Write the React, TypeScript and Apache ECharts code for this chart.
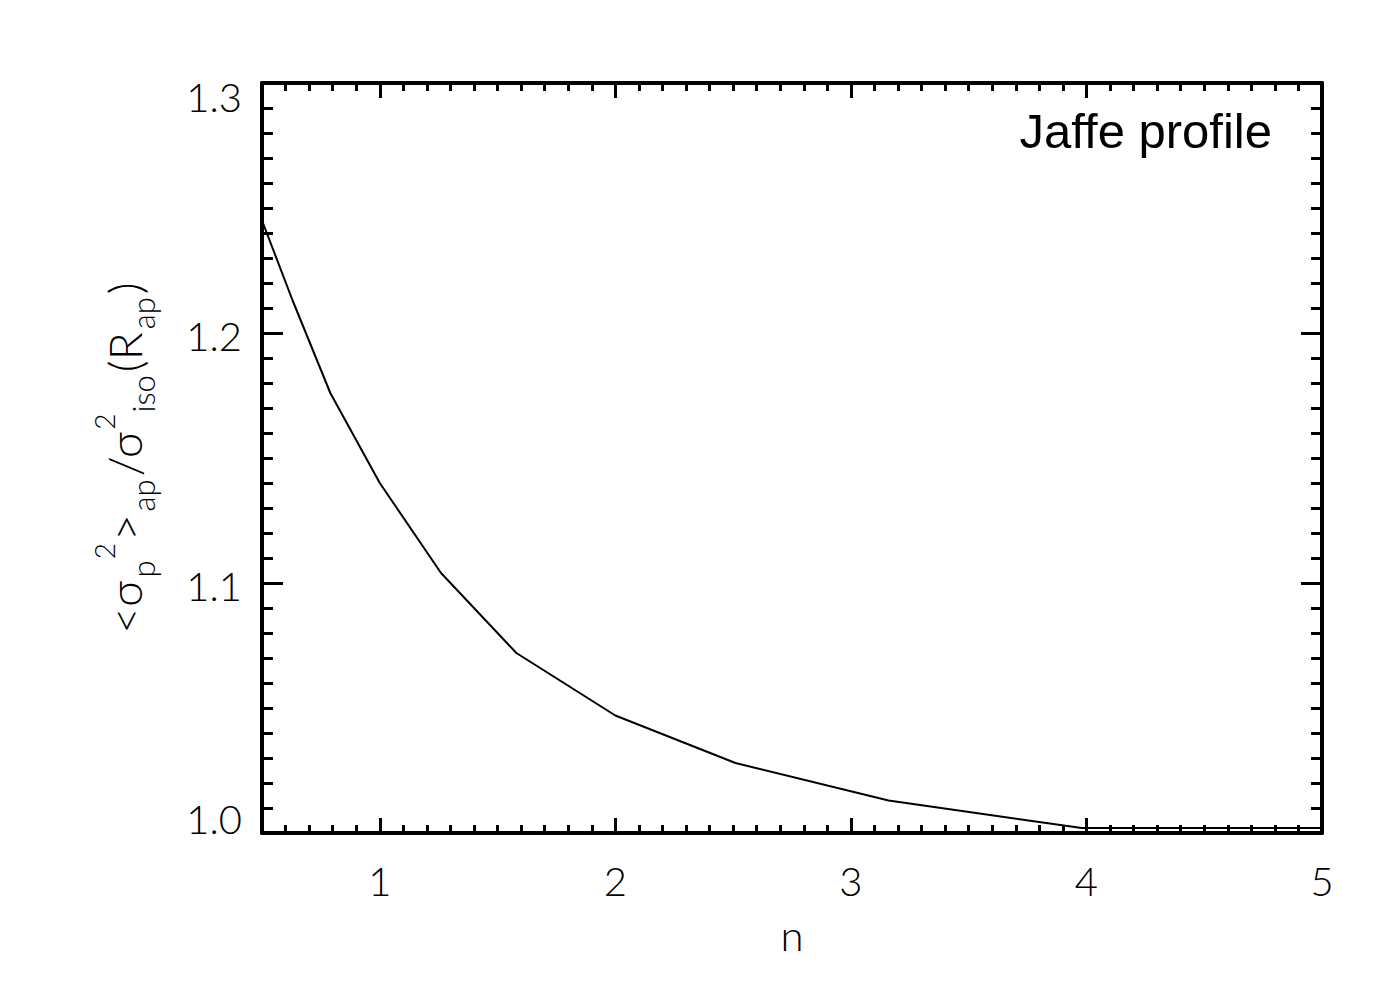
import React, { useEffect, useRef } from "react";
import * as echarts from "echarts";

// Data
const nValues = [0.5, 0.63, 0.79, 1.0, 1.26, 1.58, 2.0, 2.51, 3.16, 3.98, 5.0];
const ratioValues = [1.245, 1.213, 1.176, 1.14, 1.104, 1.072, 1.047, 1.028, 1.013, 1.002, 1.002];
const xMajorTicks = [1, 2, 3, 4, 5];
const profileLabel = "Jaffe profile";

const FONT = "Lato";
const AX = "#000";

export default function App() {
  const ref = useRef<HTMLDivElement>(null);
  useEffect(() => {
    document.body.style.margin = "0";
    const chart = echarts.init(ref.current!, null, { renderer: "svg" });
    const seriesData = nValues.map((n, i) => [n, ratioValues[i]]);

    const baseX = {
      type: "value",
      min: 0.5,
      max: 5,
      splitLine: { show: false },
    };
    const baseY = {
      type: "value",
      min: 1.0,
      max: 1.3,
      interval: 0.1,
      splitLine: { show: false },
    };
    const axisLine = { show: true, onZero: false, lineStyle: { color: AX, width: 4 } };

    const option = {
      animation: false,
      backgroundColor: "#fff",
      grid: { left: 262, right: 78, top: 83, bottom: 167, containLabel: false },
      xAxis: [
        {
          ...baseX,
          position: "bottom",
          axisLine,
          axisTick: { show: true, inside: true, length: 15, customValues: xMajorTicks, lineStyle: { color: AX, width: 3 } },
          axisLabel: {
            show: true,
            customValues: xMajorTicks,
            margin: 28,
            color: "#000",
            fontFamily: FONT,
            fontWeight: 300,
            fontSize: 40,
            formatter: (v: number) => String(Math.round(v)),
          },
          name: "n",
          nameLocation: "middle",
          nameGap: 81,
          nameTextStyle: { color: "#000", fontFamily: FONT, fontWeight: 300, fontSize: 42 },
        },
        {
          ...baseX,
          position: "bottom",
          interval: 0.1,
          axisLine: { show: false, onZero: false },
          axisTick: { show: true, inside: true, length: 8, lineStyle: { color: AX, width: 3 } },
          axisLabel: { show: false },
        },
        {
          ...baseX,
          position: "top",
          axisLine,
          axisTick: { show: true, inside: true, length: 15, customValues: xMajorTicks, lineStyle: { color: AX, width: 3 } },
          axisLabel: { show: false },
        },
        {
          ...baseX,
          position: "top",
          interval: 0.1,
          axisLine: { show: false, onZero: false },
          axisTick: { show: true, inside: true, length: 8, lineStyle: { color: AX, width: 3 } },
          axisLabel: { show: false },
        },
      ],
      yAxis: [
        {
          ...baseY,
          position: "left",
          axisLine,
          axisTick: { show: true, inside: true, length: 21, lineStyle: { color: AX, width: 3 } },
          minorTick: { show: true, splitNumber: 10, length: 11, lineStyle: { color: AX, width: 3 } },
          axisLabel: {
            show: true,
            margin: 20,
            formatter: (v: number) => {
              const s = v.toFixed(1);
              if (Math.abs(v - 1.3) < 1e-6) return "{hi|" + s + "}";
              if (Math.abs(v - 1.0) < 1e-6) return "{lo|" + s + "}";
              return "{n|" + s + "}";
            },
            rich: {
              n: { fontFamily: FONT, fontWeight: 300, fontSize: 40, color: "#000", padding: [6, 0, 0, 0] },
              hi: { fontFamily: FONT, fontWeight: 300, fontSize: 40, color: "#000", padding: [27, 0, 0, 0] },
              lo: { fontFamily: FONT, fontWeight: 300, fontSize: 40, color: "#000", padding: [0, 0, 28, 0] },
            },
          },
          name:
            "{b|<σ}{sub|p}{sup|2}{b|>}{sub|ap}{b|/σ}{sup|2}{sub|iso}{b|(R}{sub|ap}{b|)}",
          nameLocation: "middle",
          nameRotate: 90,
          nameGap: 104,
          nameTextStyle: {
            color: "#000",
            rich: {
              b: { fontFamily: FONT, fontWeight: 300, fontSize: 46, lineHeight: 68, color: "#000", padding: [0, 2, 0, 2] },
              sub: { fontFamily: FONT, fontWeight: 300, fontSize: 31, lineHeight: 42, verticalAlign: "bottom", color: "#000", padding: [0, 1, 0, 1] },
              sup: { fontFamily: FONT, fontWeight: 300, fontSize: 28, lineHeight: 50, verticalAlign: "top", color: "#000" },
            },
          },
        },
        {
          ...baseY,
          position: "right",
          axisLine,
          axisTick: { show: true, inside: true, length: 21, lineStyle: { color: AX, width: 3 } },
          minorTick: { show: true, splitNumber: 10, length: 11, lineStyle: { color: AX, width: 3 } },
          axisLabel: { show: false },
        },
      ],
      graphic: [
        {
          type: "text",
          right: 128,
          top: 106,
          style: {
            text: profileLabel,
            font: '49px "Liberation Sans"',
            fill: "#000",
          },
        },
      ],
      series: [
        {
          type: "line",
          xAxisIndex: 0,
          yAxisIndex: 0,
          data: seriesData,
          showSymbol: false,
          symbol: "none",
          lineStyle: { color: "#000", width: 2 },
          clip: true,
        },
      ],
    };
    chart.setOption(option as any);
    return () => chart.dispose();
  }, []);
  return (
    <div
      ref={ref}
      style={{ position: "fixed", left: 0, top: 0, width: 1400, height: 1000, background: "#fff" }}
    />
  );
}
